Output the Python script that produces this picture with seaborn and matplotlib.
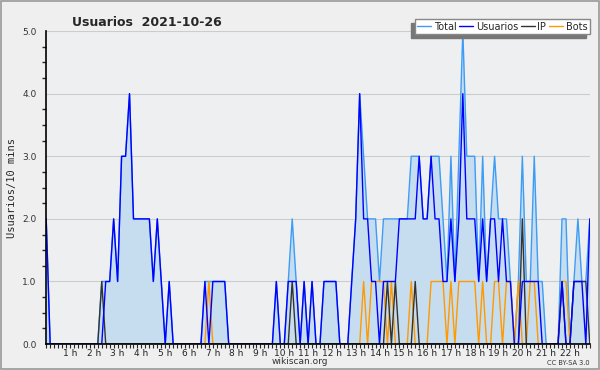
import numpy as np
import pandas as pd
import seaborn as sns
import matplotlib.pyplot as plt
from matplotlib.ticker import MultipleLocator, FixedLocator

# 10-minute samples starting at 0 h
total = [2, 0, 0, 0, 0, 0, 0, 0, 0, 0, 0, 0, 0, 0, 1, 1, 1, 2, 1, 3,
         3, 4, 2, 2, 2, 2, 2, 1, 2, 1, 0, 1, 0, 0, 0, 0, 0, 0, 0, 0,
         1, 1, 1, 1, 1, 1, 0, 0, 0, 0, 0, 0, 0, 0, 0, 0, 0, 0, 1, 0,
         0, 1, 2, 1, 0, 1, 0, 1, 0, 0, 1, 1, 1, 1, 0, 0, 0, 1, 2, 4,
         3, 2, 2, 2, 1, 2, 2, 2, 2, 2, 2, 2, 3, 3, 3, 2, 2, 3, 3, 3,
         2, 1, 3, 1, 3, 5, 3, 3, 3, 1, 3, 1, 2, 3, 2, 2, 2, 1, 0, 1,
         3, 1, 1, 3, 1, 1, 0, 0, 0, 0, 2, 2, 0, 1, 2, 1, 1, 2]
usuarios = [2, 0, 0, 0, 0, 0, 0, 0, 0, 0, 0, 0, 0, 0, 0, 1, 1, 2, 1, 3,
            3, 4, 2, 2, 2, 2, 2, 1, 2, 1, 0, 1, 0, 0, 0, 0, 0, 0, 0, 0,
            1, 0, 1, 1, 1, 1, 0, 0, 0, 0, 0, 0, 0, 0, 0, 0, 0, 0, 1, 0,
            0, 1, 1, 1, 0, 1, 0, 1, 0, 0, 1, 1, 1, 1, 0, 0, 0, 1, 2, 4,
            2, 2, 1, 1, 0, 1, 1, 1, 1, 2, 2, 2, 2, 2, 3, 2, 2, 3, 2, 2,
            1, 1, 2, 1, 2, 4, 2, 2, 2, 1, 2, 1, 2, 2, 1, 2, 1, 1, 0, 0,
            1, 1, 1, 1, 1, 0, 0, 0, 0, 0, 1, 0, 0, 1, 1, 1, 0, 2]
ip = [0, 0, 0, 0, 0, 0, 0, 0, 0, 0, 0, 0, 0, 0, 1, 0, 0, 0, 0, 0,
      0, 0, 0, 0, 0, 0, 0, 0, 0, 0, 0, 0, 0, 0, 0, 0, 0, 0, 0, 0,
      0, 0, 0, 0, 0, 0, 0, 0, 0, 0, 0, 0, 0, 0, 0, 0, 0, 0, 0, 0,
      0, 0, 1, 0, 0, 0, 0, 0, 0, 0, 0, 0, 0, 0, 0, 0, 0, 0, 0, 0,
      0, 0, 0, 0, 0, 0, 1, 0, 1, 0, 0, 0, 0, 1, 0, 0, 0, 0, 0, 0,
      0, 0, 0, 0, 0, 0, 0, 0, 0, 0, 0, 0, 0, 0, 0, 0, 0, 0, 0, 0,
      2, 0, 0, 0, 0, 0, 0, 0, 0, 0, 1, 0, 0, 1, 1, 1, 1, 0]
bots = [0, 0, 0, 0, 0, 0, 0, 0, 0, 0, 0, 0, 0, 0, 0, 0, 0, 0, 0, 0,
        0, 0, 0, 0, 0, 0, 0, 0, 0, 0, 0, 0, 0, 0, 0, 0, 0, 0, 0, 0,
        0, 1, 0, 0, 0, 0, 0, 0, 0, 0, 0, 0, 0, 0, 0, 0, 0, 0, 0, 0,
        0, 0, 0, 0, 0, 0, 0, 0, 0, 0, 0, 0, 0, 0, 0, 0, 0, 0, 0, 0,
        1, 0, 1, 1, 1, 1, 0, 1, 0, 0, 0, 0, 1, 0, 0, 0, 0, 1, 1, 1,
        1, 0, 1, 0, 1, 1, 1, 1, 1, 0, 1, 0, 0, 1, 1, 0, 1, 1, 0, 1,
        0, 0, 1, 1, 0, 0, 0, 0, 0, 0, 1, 1, 0, 0, 0, 0, 0, 0]
hour_labels = [f"{h} h" for h in range(1, 23)]

hours = np.arange(len(total)) / 6.0
df = pd.DataFrame({'hora': hours, 'Total': total, 'Usuarios': usuarios,
                   'IP': ip, 'Bots': bots})
long_df = df.melt(id_vars='hora', var_name='serie', value_name='valor')

sns.set_style('white')
plt.rcParams['font.family'] = ['DejaVu Sans']

fig = plt.figure(figsize=(6, 3.7), dpi=100, facecolor='#efefef')
ax = fig.add_axes([0.077, 0.07, 0.906, 0.846])
ax.set_facecolor('#eeeff0')

colores = {'Total': '#3d9cf5', 'Usuarios': '#0000ff', 'IP': '#333333', 'Bots': '#ff9900'}
orden_dibujo = ['Total', 'Bots', 'IP', 'Usuarios']
ax.fill_between(df['hora'], df['Total'], color='#c6ddf0', lw=0, zorder=1)
for k, serie in enumerate(orden_dibujo):
    sns.lineplot(data=long_df[long_df['serie'] == serie], x='hora', y='valor',
                 color=colores[serie], lw=1.0, ax=ax, zorder=2 + k, label=serie)

ax.set_xlim(0, hours[-1])
ax.set_ylim(0, 5)
ax.yaxis.set_major_locator(MultipleLocator(1))
ax.yaxis.set_minor_locator(MultipleLocator(0.25))
ax.yaxis.set_major_formatter(plt.FormatStrFormatter('%.1f'))
ax.xaxis.set_major_locator(FixedLocator(np.arange(1, 23)))
ax.xaxis.set_minor_locator(MultipleLocator(1 / 6))
ax.set_xticklabels(hour_labels)
ax.tick_params(axis='y', which='major', length=6, width=1, labelsize=6.5, pad=1, color='black', labelcolor='#333333')
ax.tick_params(axis='y', which='minor', length=3, width=1, left=True)
ax.tick_params(axis='x', which='major', length=3, width=0.8, labelsize=6.5, pad=0.5, bottom=True, labelcolor='#222222')
ax.tick_params(axis='x', which='minor', length=3, width=0.8, bottom=True)
ax.grid(axis='y', which='major', color='#cccccc', lw=0.8, zorder=0)
ax.set_axisbelow(True)
for s in ['top', 'right']:
    ax.spines[s].set_visible(False)
for s in ['left', 'bottom']:
    ax.spines[s].set_color('black')
    ax.spines[s].set_linewidth(1.2)
    ax.spines[s].set_zorder(10)

ax.set_xlabel('')
ax.set_ylabel('Usuarios/10 mins', family='DejaVu Sans Mono', fontsize=7.5, labelpad=4)
fig.text(0.245, 0.938, 'Usuarios  2021-10-26', fontsize=9, fontweight='bold', ha='center', va='center')
fig.text(0.5, 0.012, 'wikiscan.org', fontsize=6.5, ha='center', va='bottom', color='#333333')
fig.text(0.983, 0.012, 'CC BY-SA 3.0', fontsize=4.8, ha='right', va='bottom', color='#333333')

handles, labels = ax.get_legend_handles_labels()
por_nombre = dict(zip(labels, handles))
orden_leyenda = ['Total', 'Usuarios', 'IP', 'Bots']
leg = ax.legend([por_nombre[n] for n in orden_leyenda], orden_leyenda,
                loc='upper right', bbox_to_anchor=(1.0, 1.038), ncol=4, fontsize=7,
                frameon=True, fancybox=False,
                shadow={'color': '#777777', 'alpha': 1, 'ox': -2.5, 'oy': -2.5},
                handlelength=1.4, handletextpad=0.3, columnspacing=0.3, borderpad=0.25,
                borderaxespad=0)
leg.get_frame().set_edgecolor('#888888')
leg.get_frame().set_facecolor('white')
leg.set_zorder(20)

border = plt.Rectangle((0.001, 0.002), 0.997, 0.995, transform=fig.transFigure,
                       fill=False, edgecolor='#999999', lw=1.2)
fig.patches.append(border)

fig.savefig('out.png', dpi=100, facecolor=fig.get_facecolor())
